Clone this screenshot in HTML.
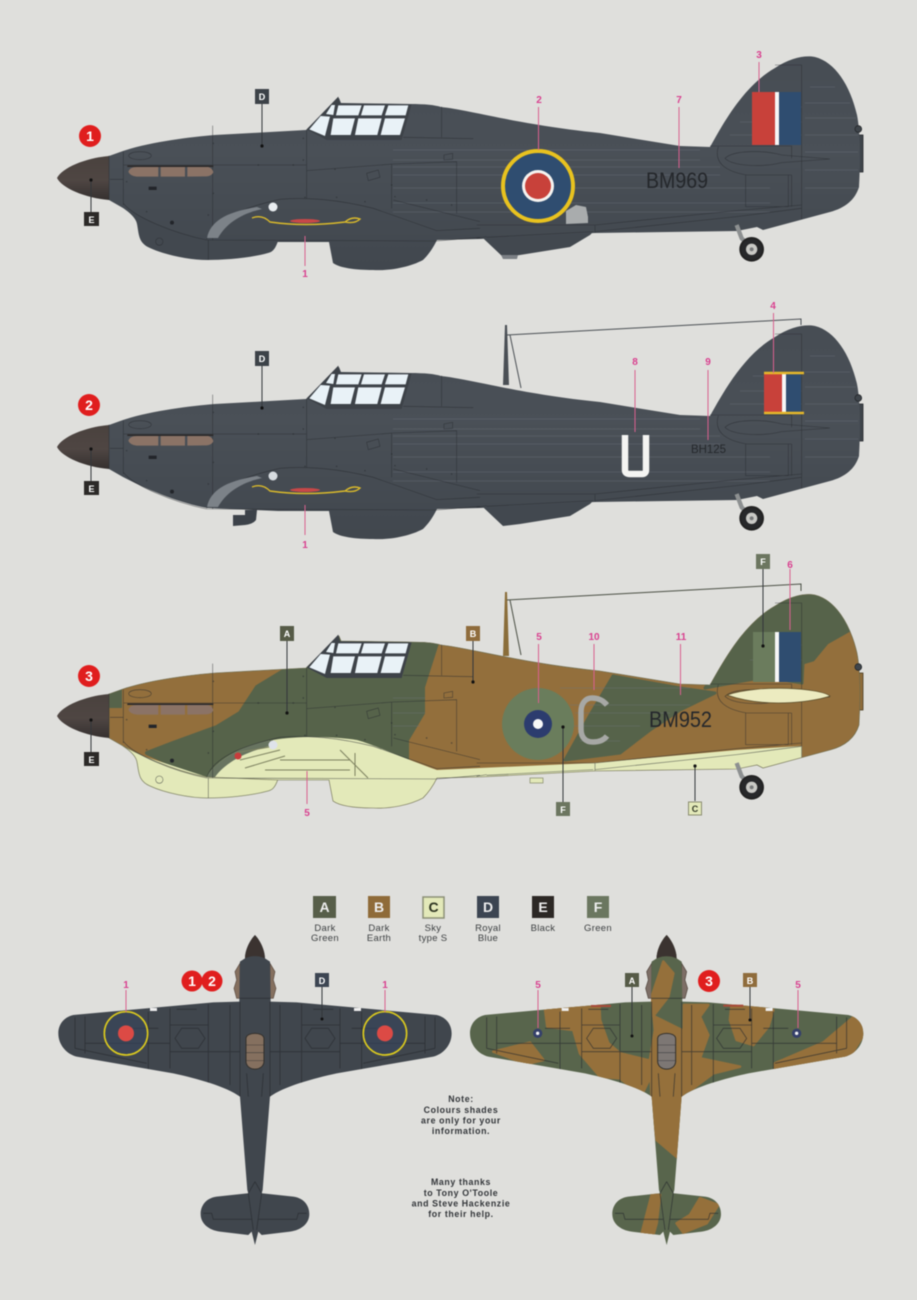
<!DOCTYPE html>
<html><head><meta charset="utf-8"><style>
html,body{margin:0;padding:0;background:#dfdfdc}
svg{display:block;filter:blur(.5px)}
text{font-family:"Liberation Sans",sans-serif}
.p{fill:#d9408f;font-size:10px;font-weight:bold;text-anchor:middle}
.pl{stroke:#d9608f;stroke-width:1;fill:none}
.bl{stroke:#33373b;stroke-width:1;fill:none}
.bx{font-size:9px;font-weight:bold;fill:#fff;text-anchor:middle}
.rn{font-size:14px;font-weight:bold;fill:#fff;text-anchor:middle}
.lg{font-size:9.5px;fill:#3d4042;text-anchor:middle;letter-spacing:.3px}
.nt{font-size:8.8px;fill:#33363a;text-anchor:middle;letter-spacing:.62px;font-weight:bold}
.ln{fill:none;stroke:#262a2e;stroke-width:1.7;opacity:.7}
.rv{fill:#262a2e;opacity:.5}
.lh{stroke:#6d747d;stroke-width:.7;opacity:.5}
</style></head><body>
<svg width="917" height="1300" viewBox="0 0 917 1300" xmlns="http://www.w3.org/2000/svg">
<defs>
<linearGradient id="dk" x1="0" y1="0" x2="0" y2="1"><stop offset="0" stop-color="#474d54"/><stop offset=".45" stop-color="#4a5057"/><stop offset="1" stop-color="#41474e"/></linearGradient>
<linearGradient id="sp" x1="0" y1="0" x2="0" y2="1"><stop offset="0" stop-color="#4a423e"/><stop offset=".55" stop-color="#4f4643"/><stop offset="1" stop-color="#35302f"/></linearGradient>
<path id="o" d="M109,156 L123,151 C150,142 190,137 215,135 L306,130 L339,98 L341,103 L410,104 C425,104 435,105 441,107 C470,110 520,125 600,133 L680,146 L710,147 C725,120 745,85 775,68 C790,58 805,55 815,57 C835,62 850,85 857,115 C861,135 860,170 859,187 C855,200 845,208 830,212 L763,230 L757,227 L737,231 L595,233 L480,239 L437,240 C432,250 428,255 423,260 C410,267 390,271 373,270 C355,270 340,268 333,263 L329,242 L278,242 L207,239 C180,234 150,222 123,208 L109,200 Z"/>
<path id="chin" d="M123,208 C129,212 136,218 137,224 C139,234 138,243 150,248 C165,255 190,260 207,260 C225,260 250,258 268,253 C272,252 275,250 278,241 L207,236 L150,215 Z"/>
<path id="spin" d="M109,156 C85,158 62,168 57,178 C62,188 85,198 109,200 Z" fill="url(#sp)"/>
<path id="scoop" d="M480,235 L595,230 L590,235 L570,247 L520,255 L503,257 L485,240 Z"/>
<clipPath id="co"><use href="#o"/></clipPath>
<g id="canopy" transform="matrix(.3333 0 0 .3333 40 40)">
<path d="M800,268 L895,170 L900,190 L1115,193 L1085,300 L860,300 Z" fill="#3d4248"/>
<g fill="#e9f2f7">
<path d="M808,268 L842,228 L870,230 L855,288 Z"/>
<path d="M858,222 L875,195 L885,195 L880,225 Z"/>
<path d="M895,196 L965,196 L955,226 L888,226 Z"/>
<path d="M972,196 L1035,196 L1025,226 L963,226 Z"/>
<path d="M1045,196 L1105,196 L1097,226 L1035,226 Z"/>
<path d="M880,235 L945,235 L932,285 L872,285 Z"/>
<path d="M955,235 L1025,235 L1012,285 L945,285 Z"/>
<path d="M1035,235 L1095,235 L1080,285 L1022,285 Z"/>
</g></g>
<g id="fl" transform="matrix(.3333 0 0 .3333 40 40)">
<path class="ln" d="M518,257 V600 M800,270 V475 M250,375 H800 M800,392 L1060,372 L1250,365 V520 M1055,372 V505 M250,335 V495 M207,347 V480 M210,418 H250 M250,490 C280,530 400,580 500,600 M500,598 C520,540 600,505 720,478 C800,470 900,480 1000,505 L1190,572 L1320,565 M500,600 L1190,603 L1320,592 M1090,292 L1300,296 M1205,200 V292 M1060,480 L1320,545"/>
<ellipse class="ln" cx="300" cy="347" rx="34" ry="12"/>
<path class="ln" d="M980,400 L1015,390 L1020,412 L985,422 Z M1212,345 L1238,340 L1238,358 L1212,360 Z"/>
<rect x="326" y="440" width="24" height="10" fill="#22252a"/>
<circle cx="396" cy="548" r="6" fill="#22252a"/>
<g class="rv"><circle cx="520" cy="310" r="2.5"/><circle cx="655" cy="375" r="2.500"/><circle cx="760" cy="375" r="2.500"/><circle cx="790" cy="360" r="2.500"/><circle cx="790" cy="295" r="2.500"/><circle cx="520" cy="460" r="2.500"/><circle cx="505" cy="525" r="2.500"/><circle cx="320" cy="515" r="2.500"/><circle cx="260" cy="425" r="2.500"/><circle cx="885" cy="388" r="2.500"/><circle cx="1055" cy="435" r="2.500"/><circle cx="1065" cy="470" r="2.500"/><circle cx="1160" cy="480" r="2.500"/><circle cx="1235" cy="495" r="2.500"/><circle cx="975" cy="485" r="2.500"/><circle cx="890" cy="472" r="2.500"/><circle cx="795" cy="472" r="2.500"/></g>
</g>
<g id="chl" transform="matrix(.3333 0 0 .3333 40 40)"><path class="ln" d="M505,600 V660"/><circle class="ln" cx="358" cy="605" r="11"/></g>
<g id="ex" transform="matrix(.3333 0 0 .3333 40 40)">
<path d="M262,376 H520 V381 H262 Z" fill="#2c2a2a"/>
<path d="M265,395 Q270,381 290,381 H355 V410 H290 Q270,408 265,395 Z M362,381 H435 V410 H362 Z M442,381 H505 Q518,385 520,397 Q515,408 500,409 L442,410 Z" fill="#8b7366"/>
</g>
<g id="rl" transform="matrix(.3333 0 0 .3333 480 40)">
<path class="ln" d="M885,75 H965 V538 M690,318 H935 V355 M-10,555 L345,555 M345,575 L770,530 L965,505 M345,555 L770,512 L965,495 M345,555 V578 M797,405 V500 H925 V405 M715,320 C700,370 740,395 800,405 H935 M935,405 V500 M-10,595 L20,590 M340,575 L20,592"/>
<path class="ln" d="M735,355 C760,330 850,330 905,345 L1050,357 L905,368 C850,382 760,380 735,355 Z"/>
<circle cx="1135" cy="267" r="10" fill="#3f454b" stroke="#25282c" stroke-width="2.500"/>
</g>
<g id="wheel" transform="matrix(.3333 0 0 .3333 480 40)">
<path d="M770,555 L785,595 L810,620" stroke="#8d9091" stroke-width="13" fill="none"/>
<circle cx="815" cy="628" r="34" fill="#27282a" stroke="#222" stroke-width="6"/>
<circle cx="815" cy="628" r="17" fill="#c9c9c5"/><circle cx="815" cy="628" r="6" fill="#77797a"/>
</g>
<g id="fh">
<path class="lh" d="M393,150 H700 M393,160 H700 M393,167 H720 M393,175 H720 M393,188 H770 M393,203 H770 M393,212 H770 M810,87 H835 M805,103 H850 M805,118 H856 M805,135 H858 M805,152 H858 M805,170 H858 M805,188 H858 M753,107 H802 M740,122 H802 M730,135 H802"/>
</g>
<path id="plan" d="M645,15 C630,30 615,60 615,85 L600,95 L598,215 L520,217 L100,255 C70,262 55,285 55,310 C55,345 80,372 110,380 L400,430 C470,445 560,470 600,500 L622,780 L625,790 L530,800 C495,805 482,830 482,852 C482,880 505,900 540,905 L625,915 L635,905 L645,945 L655,905 L665,915 L750,905 C785,900 808,880 808,852 C808,830 795,805 760,800 L665,790 L668,780 L690,500 C730,470 820,445 890,430 L1180,380 C1210,372 1235,345 1235,310 C1235,285 1220,262 1190,255 L770,217 L692,215 L690,95 L675,85 C675,60 660,30 645,15 Z"/>
<clipPath id="cp"><use href="#plan"/></clipPath>
<g id="pdet">
<path d="M615,85 C615,60 630,30 645,15 C660,30 675,60 675,85 Q645,72 615,85 Z" fill="#3b3330"/>
<path class="ln" d="M600,215 V500 M690,215 V500 M598,205 H692 M505,222 V465 M785,222 V465 M390,235 V415 M900,235 V415 M570,225 V465 M720,225 V465 M325,245 V420 M965,245 V420 M135,260 V370 M1155,260 V370 M105,262 V355 M1185,262 V355 M105,355 L320,400 M1185,355 L970,400 M135,340 H390 M1155,340 H900 M390,285 H505 M900,285 H785 M390,365 H600 M900,365 H690 M620,430 L625,500 M670,430 L665,500 M490,850 H515 L520,868 L635,868 M800,850 H775 L770,868 L655,868 M645,755 L625,790 L640,900 M645,755 L665,790 L650,900" style="stroke-width:2.5"/>
<path class="ln" d="M405,325 L425,295 H475 L495,325 L475,355 H425 Z M795,325 L815,295 H865 L885,325 L865,355 H815 Z M410,238 H470 M820,238 H880 M280,295 H355 M1010,295 H935" style="stroke-width:2.5"/>
</g>
</defs>
<rect width="917" height="1300" fill="#dfdfdc"/>

<!-- AIRCRAFT 1 -->
<g>
<use href="#chin" fill="#42484f"/><use href="#scoop" fill="#42484f"/>
<rect x="853" y="135" width="10" height="37" fill="#3f454b" stroke="#26292d" stroke-width=".8"/>
<use href="#o" fill="url(#dk)"/><use href="#spin"/>
<g clip-path="url(#co)"><use href="#fh"/></g>
<rect x="752" y="92" width="23" height="53" fill="#c8413a"/><rect x="775" y="92" width="4" height="53" fill="#f6f6f6"/><rect x="779" y="92" width="22" height="53" fill="#2f4d70"/>
<use href="#fl"/><use href="#chl"/><use href="#ex"/><use href="#rl"/><use href="#wheel"/><use href="#canopy"/>
<path d="M207,238 C210,222 225,212 257,207 L262,209 C240,214 226,224 218,238 Z" fill="#7c8288"/>
<path d="M252,218 Q262,214 270,222 Q305,227 345,222 Q352,216 360,219 Q355,224 345,222" fill="none" stroke="#d9b92b" stroke-width="1.400"/>
<ellipse cx="305" cy="221" rx="15" ry="2" fill="#c84848"/>
<circle cx="273" cy="207" r="4.500" fill="#e8ecef"/>
<circle cx="538" cy="186" r="35" fill="#2f4d70" stroke="#e8c21f" stroke-width="4"/><circle cx="538" cy="186" r="16" fill="#f5f3f0"/><circle cx="538" cy="186" r="13" fill="#c8413a"/>
<path d="M566,217 L566,211 L576,205 L586,207 L588,217 V223 L566,224 Z" fill="#a9acad"/>
<path d="M501,255 H518 L517,259 H503 Z" fill="#7c8085"/>
<text x="646" y="188" font-size="22" textLength="62" lengthAdjust="spacingAndGlyphs" fill="#24272b">BM969</text>
<circle cx="90" cy="136" r="11" fill="#e01e1e"/><text x="90" y="141" class="rn">1</text>
<rect x="255" y="89" width="14" height="15" fill="#3c4248"/><text x="262" y="100" class="bx">D</text><path class="bl" d="M262,104 V146"/><circle cx="262" cy="146" r="1.600" fill="#111"/>
<rect x="84" y="212" width="15" height="14" fill="#2c2a28"/><text x="91.500" y="223" class="bx">E</text><path class="bl" d="M91,212 V180"/><circle cx="91" cy="180" r="1.600" fill="#111"/>
<path class="pl" d="M305,236 V266 M538.500,107 V150 M679,107 V168 M759,62 V92"/>
<text x="305" y="277" class="p">1</text><text x="539" y="103" class="p">2</text><text x="679" y="103" class="p">7</text><text x="759" y="58" class="p">3</text>
</g>

<!-- AIRCRAFT 2 -->
<g transform="translate(0,269)">
<path d="M233,246 L245,246 V241 L257,241 L256,251 Q253,255 245,256 L233,257 Z" fill="#3c4249"/>
<use href="#scoop" fill="#42484f"/>
<rect x="853" y="135" width="10" height="37" fill="#3f454b" stroke="#26292d" stroke-width=".8"/>
<use href="#o" fill="url(#dk)"/><use href="#spin"/>
<g clip-path="url(#co)"><use href="#fh"/></g>
<use href="#fl"/><use href="#ex"/><use href="#rl"/><use href="#wheel"/><use href="#canopy"/>
<path d="M207,238 C210,222 225,212 257,207 L262,209 C240,214 226,224 218,238 Z" fill="#7c8288"/>
<path d="M252,218 Q262,214 270,222 Q305,227 345,222 Q352,216 360,219 Q355,224 345,222" fill="none" stroke="#d9b92b" stroke-width="1.400"/>
<ellipse cx="305" cy="221" rx="15" ry="2" fill="#c84848"/>
<circle cx="273" cy="207" r="4.500" fill="#d8dde1"/>
<rect x="764" y="104" width="18" height="40" fill="#c8413a"/><rect x="782" y="104" width="4" height="40" fill="#f6f6f6"/><rect x="786" y="104" width="15" height="40" fill="#2f4d70"/>
<path d="M764,104 H804 M764,144 H804" stroke="#e5b72a" stroke-width="2.500"/>
<path d="M625,166 V201 Q625,205 630,205 H642 Q646,205 646,201 V166" fill="none" stroke="#f4f4f2" stroke-width="6.500"/>
<text x="691" y="184" font-size="12" textLength="35" lengthAdjust="spacingAndGlyphs" fill="#25282c">BH125</text>
<path d="M503,116 L505,56 L507,56 L509,116 Z" fill="#4a4f55"/><path d="M507,66 L801,50 V56 M510,66 L521,119" fill="none" stroke="#4a4f54" stroke-width="1"/>
<circle cx="89" cy="136" r="11" fill="#e01e1e"/><text x="89" y="141" class="rn">2</text>
<rect x="255" y="82" width="14" height="15" fill="#3c4248"/><text x="262" y="93" class="bx">D</text><path class="bl" d="M262,97 V139"/><circle cx="262" cy="139" r="1.600" fill="#111"/>
<rect x="84" y="212" width="15" height="14" fill="#2c2a28"/><text x="91.500" y="223" class="bx">E</text><path class="bl" d="M91,212 V180"/><circle cx="91" cy="180" r="1.600" fill="#111"/>
<path class="pl" d="M305,236 V266 M635,101 V163 M708,101 V171 M773.500,44 V104"/>
<text x="305" y="279" class="p">1</text><text x="635" y="96" class="p">8</text><text x="708" y="96" class="p">9</text><text x="773" y="40" class="p">4</text>
</g>

<!-- AIRCRAFT 3 -->
<g transform="translate(0,538)">
<use href="#chin" fill="#e3e9b9" stroke="#85896a" stroke-width=".8"/>
<rect x="853" y="135" width="10" height="37" fill="#8f6c3a" stroke="#4a3e25" stroke-width=".8"/>
<use href="#o" fill="#936f3c"/>
<g clip-path="url(#co)">
<path d="M285,132 L257,149 L240,175 L217,189 L173,205 L147,215 L207,242 L225,225 L245,208 L273,205 L300,205 L385,215 L407,225 L407,202 L423,175 L423,149 L437,105 L300,92 Z" fill="#56634a" stroke="#56634a" stroke-width="4" stroke-linejoin="round"/>
<path d="M613,138 L590,177 L565,222 L620,215 L650,192 L680,172 L715,155 L680,150 Z" fill="#56634a" stroke="#56634a" stroke-width="3" stroke-linejoin="round"/>
<path d="M705,150 L747,92 L800,40 L870,85 L850,92 L827,105 L813,122 L803,125 L802,145 L765,139 L737,144 Z" fill="#56634a" stroke="#56634a" stroke-width="3" stroke-linejoin="round"/>
<path d="M109,150 L122,148 V170 H109 Z" fill="#56634a"/>
<path d="M109,200 L140,217 L207,239 C215,224 240,207 273,202 C300,197 340,199 357,202 C375,207 400,219 437,232 L480,230 L593,225 L737,212 L802,208 L802,222 L760,237 L600,240 L500,280 L100,280 Z" fill="#e3e9b9"/>
<path d="M207,239 C215,224 240,207 273,202 L270,208 C245,214 225,225 215,239 Z" fill="#687460"/>
</g>
<use href="#o" fill="none" stroke="#6b6b4e" stroke-width=".6"/>
<rect x="530" y="240" width="13" height="5" fill="#e3e9b9" stroke="#85896a" stroke-width=".7"/>
<use href="#spin"/>
<path class="lh" d="M393,160 H425 M393,175 H425 M393,188 H420 M560,150 H690 M570,167 H690 M575,175 H670 M570,188 H640 M580,203 H620 M760,107 H802 M750,122 H802" opacity=".5"/>
<rect x="753" y="94" width="22" height="50" fill="#6b7c5d"/><rect x="775" y="94" width="4" height="50" fill="#f6f6f6"/><rect x="779" y="94" width="22" height="50" fill="#2f4d70"/>
<use href="#fl"/><use href="#chl"/><use href="#ex"/><use href="#rl"/>
<path d="M727,157 C760,146 820,150 830,158 C820,162 770,172 727,157 Z" fill="#ecebc0" stroke="#5a4d2b" stroke-width=".7"/>
<use href="#wheel"/><use href="#canopy"/>
<g fill="none" stroke="#7d8160" stroke-width="1"><path d="M235,215 L275,208 M240,222 L280,212 M245,230 L285,218 M280,222 H350 M265,232 H350 M340,212 L368,240 M355,215 V238"/></g>
<circle cx="238" cy="218" r="3.500" fill="#c83c3c"/><circle cx="273" cy="207" r="4.500" fill="#dfe3ea"/>
<circle cx="538" cy="186" r="36" fill="#6a7d5c"/><circle cx="538" cy="186" r="14" fill="#2c3c6e"/><circle cx="538" cy="186" r="5" fill="#f8f8f8"/>
<path d="M607,167 C602,161 596,160 592,160 C585,160 581,166 581,174 V191 C581,200 586,204 593,204 C600,204 604,202 607,198" fill="none" stroke="#a7a8a5" stroke-width="5.500"/>
<text x="649" y="189" font-size="22" textLength="63" lengthAdjust="spacingAndGlyphs" fill="#24272b">BM952</text>
<path d="M503,118 L505,54 L507,54 L509,118 Z" fill="#8a6d39"/><path d="M507,62 L801,46 V53 M510,62 L521,117" fill="none" stroke="#4a4f44" stroke-width="1"/>
<circle cx="89" cy="138" r="11" fill="#e01e1e"/><text x="89" y="143" class="rn">3</text>
<rect x="280" y="88" width="14" height="15" fill="#565b47"/><text x="287" y="99" class="bx">A</text><path class="bl" d="M287,103 V175"/><circle cx="287" cy="175" r="1.600" fill="#111"/>
<rect x="466" y="88" width="14" height="15" fill="#8f6c3c"/><text x="473" y="99" class="bx">B</text><path class="bl" d="M473,103 V144"/><circle cx="473" cy="144" r="1.600" fill="#111"/>
<rect x="756" y="16" width="14" height="15" fill="#6c7660"/><text x="763" y="27" class="bx">F</text><path class="bl" d="M763,31 V108"/><circle cx="763" cy="108" r="1.600" fill="#111"/>
<rect x="556" y="264" width="14" height="14" fill="#6c7660"/><text x="563" y="275" class="bx">F</text><path class="bl" d="M563,264 V189"/><circle cx="563" cy="189" r="1.600" fill="#111"/>
<rect x="688.500" y="264" width="13" height="13" fill="#e3e9b9" stroke="#8a8d70" stroke-width="1"/><text x="695" y="274" class="bx" style="fill:#343a28">C</text><path class="bl" d="M695,263 V228"/><circle cx="695" cy="228" r="1.600" fill="#111"/>
<rect x="84" y="214" width="15" height="14" fill="#2c2a28"/><text x="91.500" y="225" class="bx">E</text><path class="bl" d="M91,214 V182"/><circle cx="91" cy="182" r="1.600" fill="#111"/>
<path class="pl" d="M307,233 V266 M538.500,106 V165 M594,106 V152 M680.500,106 V157 M790,31 V92"/>
<text x="307" y="278" class="p">5</text><text x="539" y="102" class="p">5</text><text x="594" y="102" class="p">10</text><text x="681" y="102" class="p">11</text><text x="790" y="30" class="p">6</text>
</g>

<!-- LEGEND -->
<g>
<rect x="313" y="896" width="23" height="22" fill="#575e49"/><text x="324.500" y="912" font-size="14" font-weight="bold" fill="#eee" text-anchor="middle">A</text>
<rect x="368" y="896" width="22" height="22" fill="#8f6b39"/><text x="379" y="912" font-size="14" font-weight="bold" fill="#eee" text-anchor="middle">B</text>
<rect x="423" y="897" width="21" height="21" fill="#e3e9b9" stroke="#8c9077" stroke-width="1.500"/><text x="433.500" y="912" font-size="14" font-weight="bold" fill="#2c3320" text-anchor="middle">C</text>
<rect x="477" y="896" width="22" height="22" fill="#3c4552"/><text x="488" y="912" font-size="14" font-weight="bold" fill="#eee" text-anchor="middle">D</text>
<rect x="532" y="896" width="22" height="22" fill="#2c2825"/><text x="543" y="912" font-size="14" font-weight="bold" fill="#eee" text-anchor="middle">E</text>
<rect x="587" y="896" width="22" height="22" fill="#6b7760"/><text x="598" y="912" font-size="14" font-weight="bold" fill="#eee" text-anchor="middle">F</text>
<text x="325" y="931" class="lg">Dark</text><text x="325" y="941" class="lg">Green</text>
<text x="379" y="931" class="lg">Dark</text><text x="379" y="941" class="lg">Earth</text>
<text x="433" y="931" class="lg">Sky</text><text x="433" y="941" class="lg">type S</text>
<text x="488" y="931" class="lg">Royal</text><text x="488" y="941" class="lg">Blue</text>
<text x="543" y="931" class="lg">Black</text>
<text x="598" y="931" class="lg">Green</text>
</g>

<!-- TOP VIEW LEFT -->
<g transform="matrix(.3333 0 0 .3333 40 930)">
<g fill="#85705f" stroke="#5b4c42" stroke-width="2"><path d="M600,100 L585,125 L590,150 L582,175 L590,205 H600 Z"/><path d="M690,100 L705,125 L700,150 L708,175 L700,205 H690 Z"/></g>
<use href="#plan" fill="#40464d"/>
<g clip-path="url(#cp)"><use href="#pdet"/></g>
<path d="M618,325 C620,305 670,305 672,325 V395 C670,425 620,425 618,395 Z" fill="#85705f" stroke="#33302c" stroke-width="3"/>
<path class="ln" d="M618,345 H672 M618,368 H672 M618,392 H672"/>
<circle cx="258" cy="310" r="65" fill="#34465f" fill-opacity=".55" stroke="#d9c81f" stroke-width="5"/>
<circle cx="1035" cy="310" r="65" fill="#34465f" fill-opacity=".55" stroke="#d9c81f" stroke-width="5"/>
<circle cx="258" cy="310" r="24" fill="#dc4a45"/><circle cx="1035" cy="310" r="24" fill="#dc4a45"/>
<rect x="330" y="234" width="21" height="9" fill="#eee"/><rect x="942" y="234" width="21" height="9" fill="#eee"/>
</g>
<path class="pl" d="M126,990 V1012 M385,990 V1012"/>
<text x="126" y="988" class="p">1</text><text x="385" y="988" class="p">1</text>
<circle cx="192" cy="981" r="10.500" fill="#e01e1e"/><circle cx="212" cy="981" r="10.500" fill="#e01e1e"/>
<text x="192" y="986" class="rn">1</text><text x="212" y="986" class="rn">2</text>
<rect x="315" y="973" width="14" height="14" fill="#3c4552"/><text x="322" y="984" class="bx">D</text><path class="bl" d="M322,987 V1019"/><circle cx="322" cy="1019" r="1.500" fill="#111"/>

<!-- TOP VIEW RIGHT -->
<g transform="matrix(.3333 0 0 .3333 460 930)">
<clipPath id="cpr"><use href="#plan" transform="translate(-25,0)"/></clipPath>
<g transform="translate(-25,0)">
<g fill="#7d6e66" stroke="#4f443c" stroke-width="2"><path d="M600,100 L585,125 L590,150 L582,175 L590,205 H600 Z"/><path d="M690,100 L705,125 L700,150 L708,175 L700,205 H690 Z"/></g>
<use href="#plan" fill="#58654c"/>
</g>
<g clip-path="url(#cpr)" fill="#95703b" stroke="#95703b" stroke-width="8" stroke-linejoin="round">
<path d="M610,95 L640,130 L625,200 L580,258 L665,300 L672,500 L665,640 L655,685 L590,630 L575,500 L570,390 L585,300 L575,200 Z"/>
<path d="M255,236 L418,226 L420,270 L445,340 L480,370 L570,392 L572,440 L545,495 L480,445 L420,440 L360,370 L340,300 L262,290 Z"/>
<path d="M100,365 L210,338 L250,390 L200,402 Z"/>
<path d="M672,225 H745 L720,260 L745,315 L720,385 L840,410 L760,430 L700,475 L670,490 Z"/>
<path d="M815,222 L940,240 L925,290 L880,345 L830,330 L810,270 Z"/>
<path d="M945,400 L1090,338 L1180,262 L1220,300 L1170,380 L945,425 Z"/>
<path d="M545,910 L575,795 L600,795 L590,880 L580,915 Z"/>
<path d="M690,855 L720,805 L775,825 L740,880 L670,908 L650,880 Z"/>
</g>
<g transform="translate(-25,0)">
<path d="M615,85 C615,60 630,30 645,15 C660,30 675,60 675,85 Q645,72 615,85 Z" fill="#3b3330"/>
<g clip-path="url(#cp)"><use href="#pdet"/></g>
<path d="M618,325 C620,305 670,305 672,325 V395 C670,425 620,425 618,395 Z" fill="#7d7774" stroke="#33302c" stroke-width="3"/>
<path class="ln" d="M618,345 H672 M618,368 H672 M618,392 H672"/>
<rect x="330" y="234" width="21" height="9" fill="#eee"/><rect x="942" y="234" width="21" height="9" fill="#eee"/>
<rect x="418" y="225" width="60" height="6" fill="#a84a3a"/><rect x="815" y="224" width="60" height="6" fill="#a84a3a"/>
<circle cx="258" cy="310" r="14" fill="#35406a"/><circle cx="258" cy="310" r="5" fill="#f4f4f4"/>
<circle cx="1035" cy="310" r="14" fill="#35406a"/><circle cx="1035" cy="310" r="5" fill="#f4f4f4"/>
</g>
</g>
<path class="pl" d="M538,990 V1028 M798,990 V1028"/>
<text x="538" y="988" class="p">5</text><text x="798" y="988" class="p">5</text>
<circle cx="709" cy="981" r="11" fill="#e01e1e"/><text x="709" y="986" class="rn">3</text>
<rect x="625" y="973" width="14" height="14" fill="#565b47"/><text x="632" y="984" class="bx">A</text><path class="bl" d="M632,987 V1036"/><circle cx="632" cy="1036" r="1.500" fill="#111"/>
<rect x="743" y="973" width="14" height="14" fill="#8f6c3c"/><text x="750" y="984" class="bx">B</text><path class="bl" d="M750,987 V1020"/><circle cx="750" cy="1020" r="1.500" fill="#111"/>

<!-- NOTES -->
<text x="461" y="1102" class="nt">Note:</text>
<text x="461" y="1113" class="nt">Colours shades</text>
<text x="461" y="1123.500" class="nt">are only for your</text>
<text x="461" y="1134" class="nt">information.</text>
<text x="461" y="1185" class="nt">Many thanks</text>
<text x="461" y="1196" class="nt">to Tony O'Toole</text>
<text x="461" y="1206.500" class="nt">and Steve Hackenzie</text>
<text x="461" y="1217" class="nt">for their help.</text>
</svg>
</body></html>
